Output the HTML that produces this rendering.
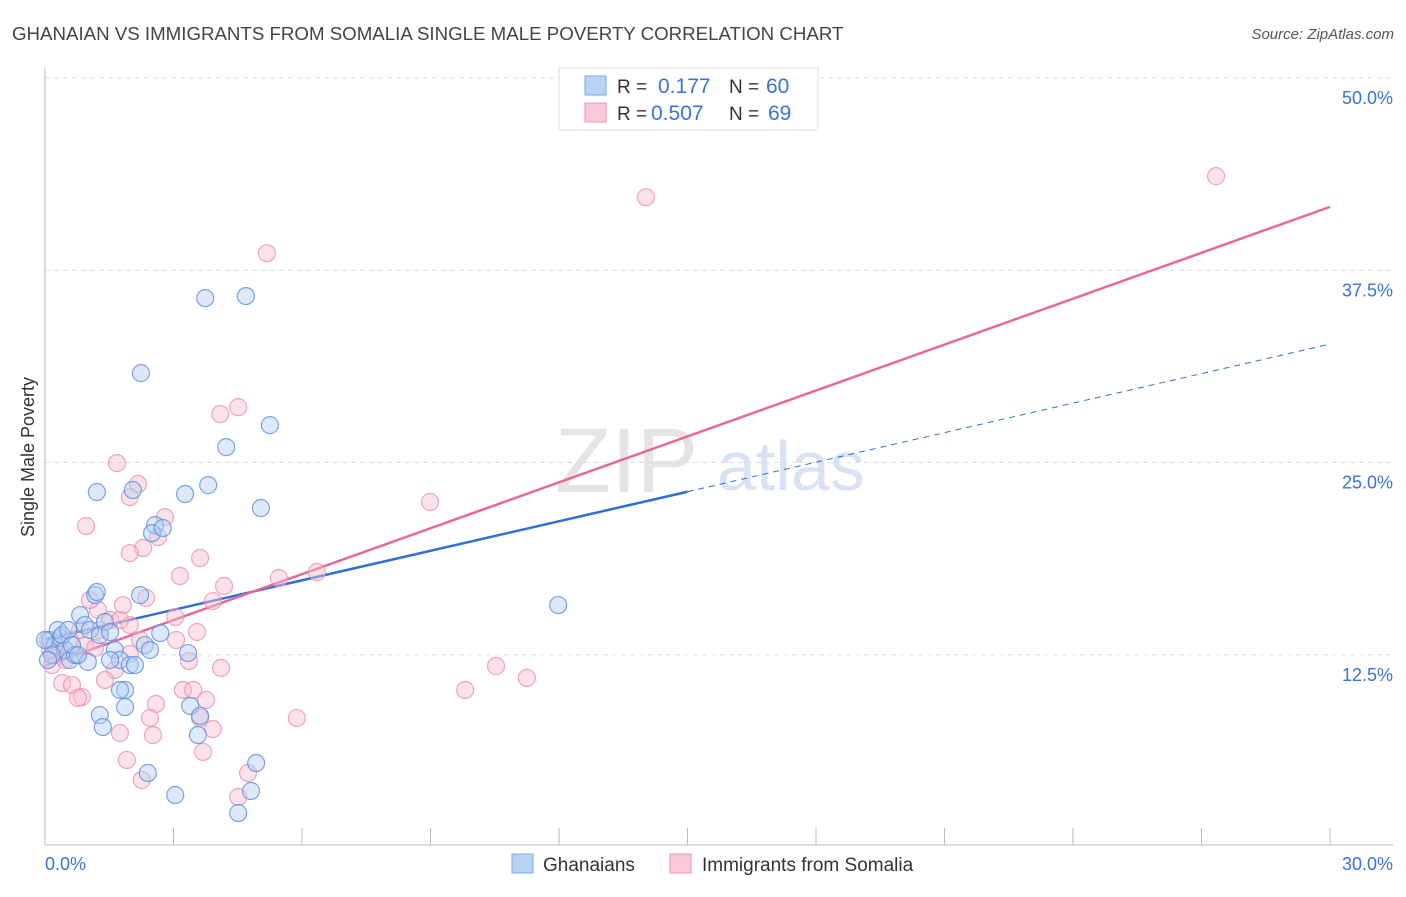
<!DOCTYPE html>
<html><head><meta charset="utf-8"><style>
body{margin:0;background:#fff;font-family:"Liberation Sans",sans-serif;}
svg text{font-family:"Liberation Sans",sans-serif;}
</style></head><body>
<svg id="chart" width="1406" height="892" viewBox="0 0 1406 892">
<text x="12" y="40" font-size="18.7" fill="#444">GHANAIAN VS IMMIGRANTS FROM SOMALIA SINGLE MALE POVERTY CORRELATION CHART</text>
<text x="1394" y="39" font-size="15" fill="#555" font-style="italic" text-anchor="end">Source: ZipAtlas.com</text>
<text x="34" y="457" font-size="18" fill="#333" text-anchor="middle" transform="rotate(-90 34 457)">Single Male Poverty</text>
<g><text x="555" y="492" font-size="92" fill="#e4e4e4" font-family="Liberation Serif">ZIP</text><text x="717" y="490" font-size="70" fill="#d7e3f3">atlas</text></g>
<g id="grid"></g><g id="axes"></g><g id="lines"></g><g id="pts"></g>
<g>
<rect x="559" y="68" width="259" height="62" fill="#fff" stroke="#ddd"/>
<rect x="585" y="76" width="21" height="19" fill="#b9d3f5" stroke="#7ea8e6"/>
<rect x="585" y="103" width="21" height="19" fill="#f9c9d8" stroke="#ec94b2"/>
<text x="617" y="93" font-size="19" fill="#333">R = </text><text x="658" y="93" font-size="21" fill="#3a73d3">0.177</text>
<text x="729" y="93" font-size="19" fill="#333">N = </text><text x="766" y="93" font-size="21" fill="#3a73d3">60</text>
<text x="617" y="120" font-size="19" fill="#333">R = </text><text x="651" y="120" font-size="21" fill="#3a73d3">0.507</text>
<text x="729" y="120" font-size="19" fill="#333">N = </text><text x="768" y="120" font-size="21" fill="#3a73d3">69</text>
</g>
<g>
<rect x="512" y="854" width="21" height="19" fill="#b9d3f5" stroke="#7ea8e6"/>
<text x="543" y="871" font-size="19" fill="#333">Ghanaians</text>
<rect x="670" y="854" width="21" height="19" fill="#f9c9d8" stroke="#ec94b2"/>
<text x="702" y="871" font-size="19" fill="#333">Immigrants from Somalia</text>
</g>
</svg>
<script>
const yTicks=[12.5,25,37.5,50];
const yTickLabels=["12.5%","25.0%","37.5%","50.0%"];
const xTickLabels=["0.0%","30.0%"];
const blueX=[0.12,0.23,0.35,0.47,0.58,0.70,0.16,0.30,0.40,0.82,0.93,1.05,1.17,1.21,1.28,1.40,1.52,1.63,1.75,1.87,1.98,2.10,2.22,2.33,2.45,2.69,1.28,1.35,1.87,1.75,1.21,2.24,2.05,2.57,2.50,2.75,3.27,3.74,4.69,4.23,3.81,5.25,5.04,3.34,3.39,3.62,3.57,2.40,3.04,4.51,4.81,4.93,11.98,0.54,0.63,1.00,1.52,0,0.07,0.77];
const blueY=[13.46,13.13,13.59,12.81,12.16,12.48,12.48,14.11,13.78,15.08,14.43,14.11,16.38,16.58,13.78,14.63,13.98,12.81,12.16,10.21,11.83,11.83,16.38,13.13,12.81,13.91,8.58,7.80,9.10,10.21,23.08,30.81,23.21,20.93,20.41,20.74,22.95,35.69,35.82,26.0,23.53,27.43,22.04,12.61,9.17,8.52,7.28,4.81,3.38,2.21,3.64,5.46,15.73,14.11,13.13,12.03,12.16,13.46,12.16,12.48];
const pinkX=[27.34,14.03,5.18,4.51,4.09,1.68,0.96,1.98,2.17,2.80,2.64,2.29,1.98,3.62,3.15,4.18,5.46,6.35,8.99,3.92,2.36,1.82,1.24,3.04,3.55,3.06,3.36,4.11,1.98,1.63,1.40,0.40,0.63,0.86,0.77,3.22,3.46,3.76,2.59,2.45,3.62,5.88,3.92,1.75,2.52,3.69,1.91,4.74,2.26,4.51,9.81,10.53,11.25,0.16,0.23,0.35,0.58,0.93,1.17,1.52,0.07,0.12,0.47,1.28,1.98,1.05,1.75,2.22,0.82];
const pinkY=[43.62,42.25,38.61,28.6,28.15,24.96,20.87,22.75,23.6,21.45,20.15,19.44,19.11,18.79,17.62,16.97,17.49,17.88,22.43,15.99,16.19,15.73,15.41,14.95,13.98,13.46,12.09,11.64,12.55,11.51,10.86,10.66,10.53,9.75,9.69,10.21,10.21,9.56,9.30,8.39,8.39,8.39,7.67,7.41,7.28,6.18,5.66,4.81,4.36,3.25,10.21,11.77,10.99,11.83,12.48,12.81,13.46,13.13,12.94,14.76,13.46,12.81,12.16,14.11,14.43,16.06,14.76,13.46,14.11];
const blueFit=[13.5,0.64]; // intercept, slope
const pinkFit=[11.77,0.995];
const X0=45,X1=1330,Y0=847,Y1=78;
const sx=v=>X0+(X1-X0)*v/30, sy=v=>Y0-(Y0-Y1)*v/50;
const NS="http://www.w3.org/2000/svg";
function mk(p,t,a){const e=document.createElementNS(NS,t);for(const k in a)e.setAttribute(k,a[k]);p.appendChild(e);return e;}
const grid=document.getElementById('grid'),axes=document.getElementById('axes'),lines=document.getElementById('lines'),pts=document.getElementById('pts');
yTicks.forEach((v,i)=>{
 const l=mk(grid,'line',{x1:45,x2:1393,y1:sy(v),y2:sy(v),stroke:'#ddd','stroke-dasharray':'5,4'});
 
 
 const t=mk(axes,'text',{x:1393,y:sy(v)+26,'font-size':18,fill:'#3a73d3','text-anchor':'end'});t.textContent=yTickLabels[i];
 
 
});
const al=mk(axes,'line',{x1:45,x2:45,y1:68,y2:845,stroke:'#bbb'});


const bl=mk(axes,'line',{x1:45,x2:1393,y1:845,y2:845,stroke:'#bbb'});


for(let i=0;i<=10;i++){const tk=mk(axes,'line',{x1:sx(i*3),x2:sx(i*3),y1:828,y2:845,stroke:'#bbb'});
 
 }
[[0,'start',45],[1,'end',1393]].forEach(([i,a,x])=>{const t=mk(axes,'text',{x:x,y:870,'font-size':18,fill:'#3a73d3','text-anchor':a});t.textContent=xTickLabels[i];
 
 });
function dots(xs,ys,fill,stroke,name){xs.forEach((x,i)=>{const c=mk(pts,'circle',{cx:sx(x),cy:sy(ys[i]),r:8.5,fill:fill,'fill-opacity':0.45,stroke:stroke,'stroke-width':1.2,'stroke-opacity':0.8});
 
 });}
dots(pinkX,pinkY,'#f7bfd1','#e991ae','somalia-point');
dots(blueX,blueY,'#b3cff3','#5a8fdc','ghanaian-point');
const f=(fit,x)=>fit[0]+fit[1]*x;
const b1=mk(lines,'line',{x1:sx(0),y1:sy(f(blueFit,0)),x2:sx(15),y2:sy(f(blueFit,15)),stroke:'#2f6fd6','stroke-width':2.5});


const b2=mk(lines,'line',{x1:sx(15),y1:sy(f(blueFit,15)),x2:sx(30),y2:sy(f(blueFit,30)),stroke:'#2f6fd6','stroke-width':1,'stroke-dasharray':'6,5'});


const p1=mk(lines,'line',{x1:sx(0),y1:sy(f(pinkFit,0)),x2:sx(30),y2:sy(f(pinkFit,30)),stroke:'#e4689a','stroke-width':2.5});


</script>
</body></html>
